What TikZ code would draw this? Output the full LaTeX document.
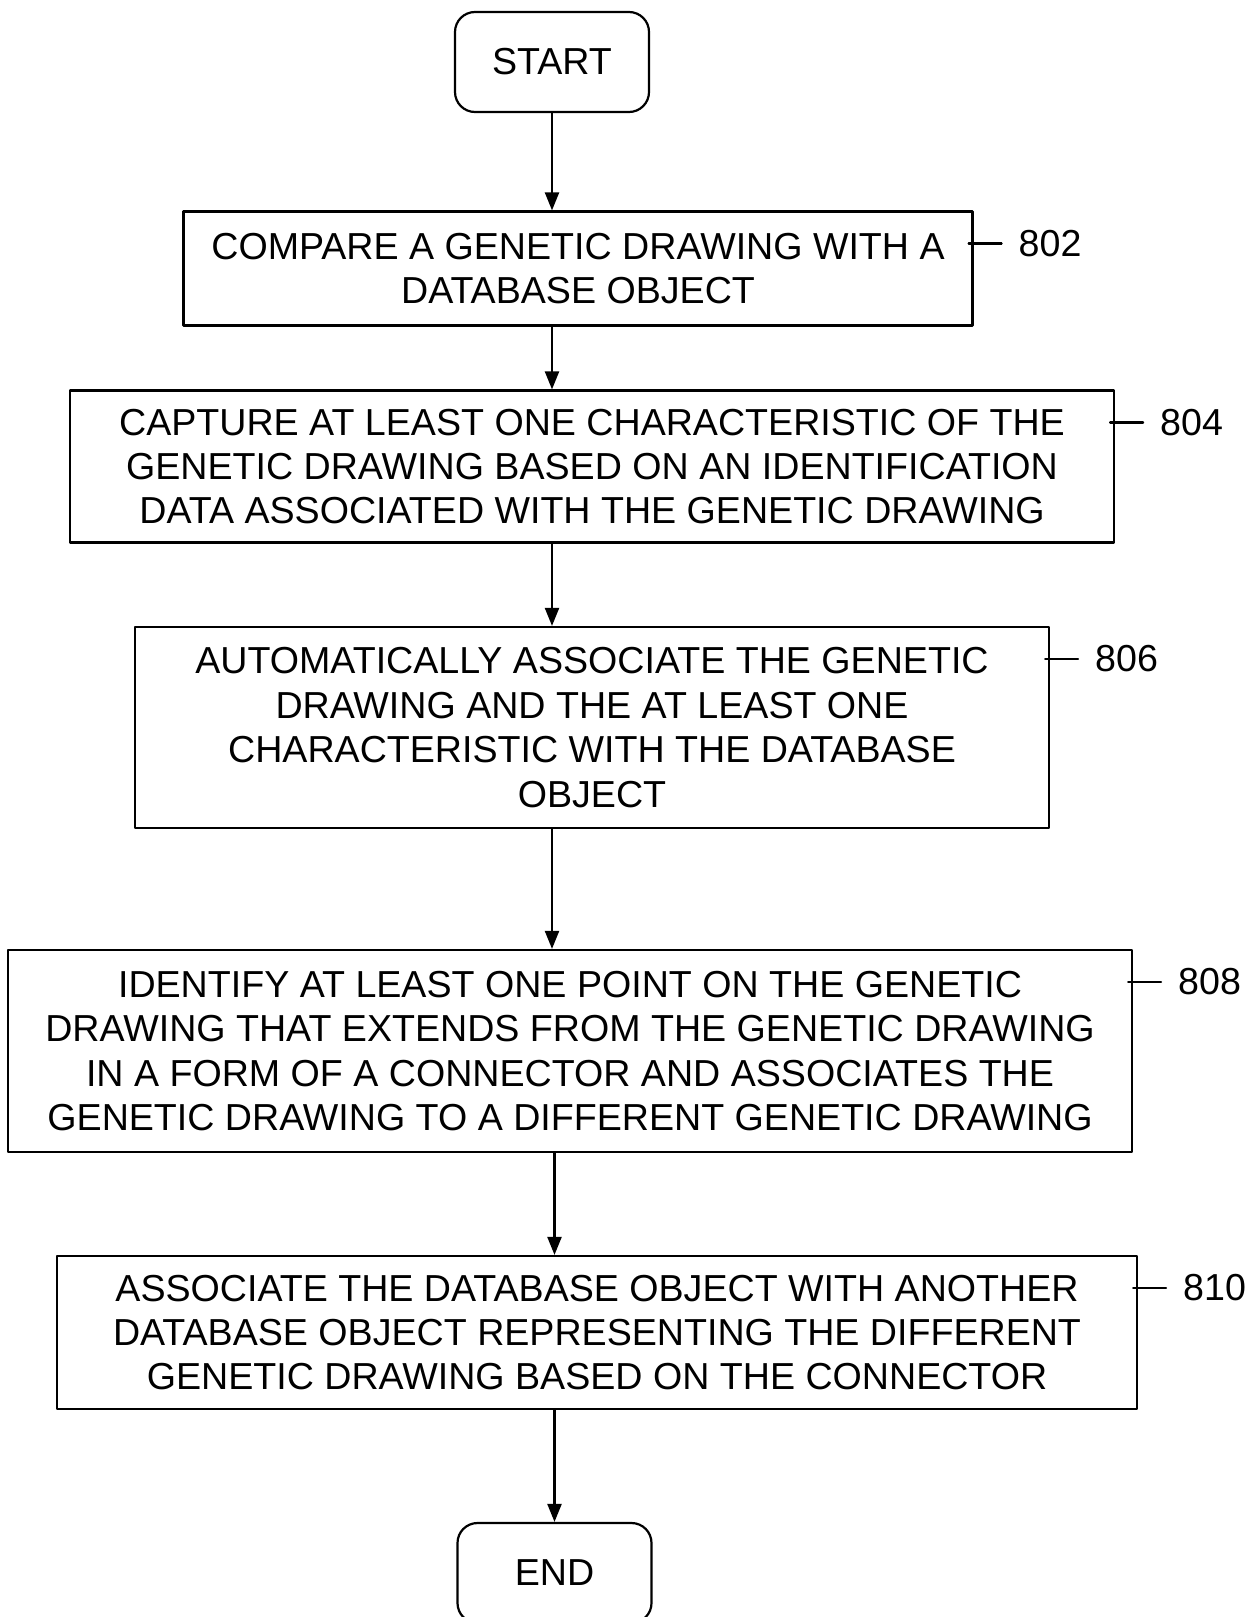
\documentclass[tikz,border=0pt]{standalone}
\usepackage{fontspec}
\setmainfont{Liberation Sans}
\usetikzlibrary{arrows.meta}

\tikzset{
  stepbox/.style={draw, line width=1.1pt, align=center, inner sep=0pt,
    font=\fontsize{18.8}{22.2}\selectfont},
  termbox/.style={stepbox, rounded corners=10pt, minimum width=97pt, minimum height=50pt},
  reflabel/.style={right=8pt, inner sep=0pt, font=\fontsize{18.8}{22.2}\selectfont}
}

\begin{document}
\begin{tikzpicture}[line cap=round,line join=round,>={Triangle[length=9pt,width=7pt]},x=0.5pt,y=-0.5pt]
	\useasboundingbox (0,0) rectangle (1255,1617);
	\clip (0,0) rectangle (1255,1617);
	% terminals
	\node[termbox] (start) at (552,62) {START};
	\node[termbox] (end) at (554.5,1573) {END};
	% steps
	\node[stepbox, minimum width=394.5pt, minimum height=57pt] (b802) at (578,268.5)
		{COMPARE A GENETIC DRAWING WITH A\\DATABASE OBJECT};
	\node[stepbox, minimum width=522pt, minimum height=76pt] (b804) at (592,466.5)
		{CAPTURE AT LEAST ONE CHARACTERISTIC OF THE\\GENETIC DRAWING BASED ON AN IDENTIFICATION\\DATA ASSOCIATED WITH THE GENETIC DRAWING};
	\node[stepbox, minimum width=457pt, minimum height=100.5pt] (b806) at (592,727.5)
		{AUTOMATICALLY ASSOCIATE THE GENETIC\\DRAWING AND THE AT LEAST ONE\\CHARACTERISTIC WITH THE DATABASE\\OBJECT};
	\node[stepbox, minimum width=562pt, minimum height=101pt] (b808) at (570,1051)
		{IDENTIFY AT LEAST ONE POINT ON THE GENETIC\\DRAWING THAT EXTENDS FROM THE GENETIC DRAWING\\IN A FORM OF A CONNECTOR AND ASSOCIATES THE\\GENETIC DRAWING TO A DIFFERENT GENETIC DRAWING};
	\node[stepbox, minimum width=540pt, minimum height=76.5pt] (b810) at (597,1332.5)
		{ASSOCIATE THE DATABASE OBJECT WITH ANOTHER\\DATABASE OBJECT REPRESENTING THE DIFFERENT\\GENETIC DRAWING BASED ON THE CONNECTOR};
	% flow
	\draw[line width=1.1pt,->] (start.south) -- (start.south |- b802.north);
	\draw[line width=1.1pt,->] (b802.south -| start) -- (b804.north -| start);
	\draw[line width=1.1pt,->] (b804.south -| start) -- (b806.north -| start);
	\draw[line width=1.1pt,->] (b806.south -| start) -- (b808.north -| start);
	\draw[line width=1.1pt,->] (b808.south -| end) -- (b810.north -| end);
	\draw[line width=1.1pt,->] (b810.south -| end) -- (end.north);
	% reference numerals
	\foreach \n in {802,804,806,808,810}
		\draw[line width=1.1pt] ([xshift=-2.5pt,yshift=-16.5pt]b\n.north east) -- ++(16.5pt,0) node[reflabel] {\n};
\end{tikzpicture}
\end{document}
